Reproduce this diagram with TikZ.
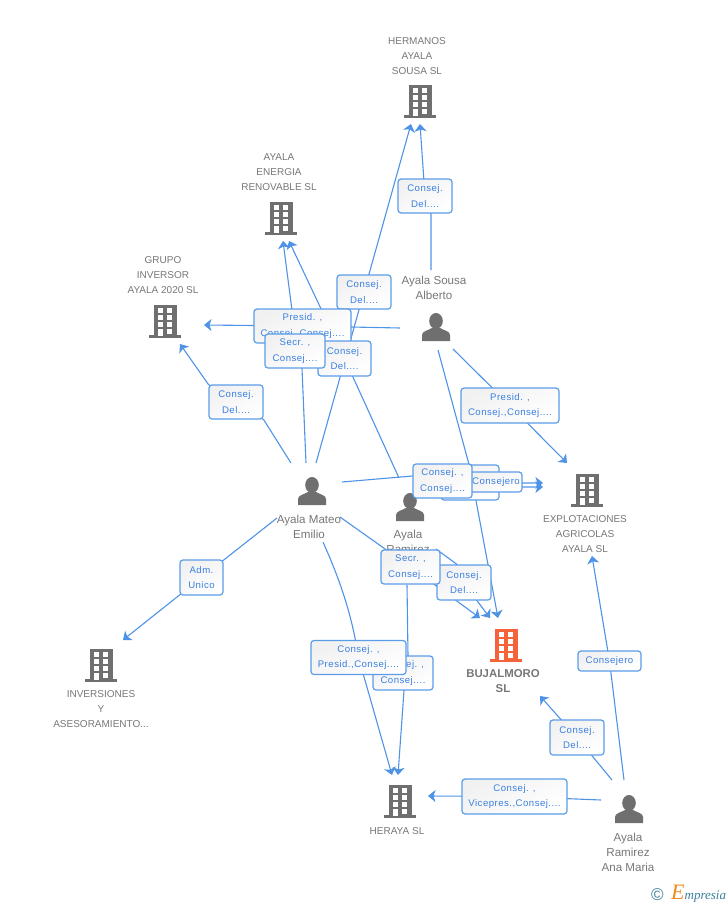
\documentclass[tikz,border=0pt]{standalone}
\usepackage{fontspec}
\setmainfont{Liberation Sans}
\newfontfamily\logofont{Liberation Serif}
\usetikzlibrary{arrows.meta,backgrounds}
\definecolor{linkblue}{HTML}{4F93E6}
\definecolor{boxedge}{HTML}{5B9CE8}
\definecolor{boxtext}{HTML}{3A7FE0}
\definecolor{boxshade}{HTML}{F1F1F1}
\definecolor{icongrey}{HTML}{6F6F6F}
\definecolor{labelgrey}{HTML}{777777}
\definecolor{hotorange}{HTML}{F4633A}
\definecolor{logoteal}{HTML}{3A7F9A}
\definecolor{logoorange}{HTML}{EE8A1E}
\tikzset{
  conn/.style={draw=linkblue,line width=1.1pt},
  arr/.style={conn,-{Stealth[length=7.5pt,width=12pt,inset=2pt]}},
  lbl/.style={draw=boxedge,line width=1.2pt,rounded corners=3pt,inner sep=0pt,
    top color=boxshade,bottom color=white,shading angle=30,text=boxtext,align=center,
    font=\fontsize{9.6}{15.5}\selectfont\addfontfeatures{LetterSpace=5}},
  caption/.style={text=labelgrey,align=center,inner sep=0pt,font=\fontsize{10}{15}\selectfont},
  namecap/.style={caption,font=\fontsize{11.6}{15}\selectfont},
  bldg/.style={minimum width=34pt,minimum height=34pt,inner sep=0pt,path picture={
    \begin{scope}[shift={(path picture bounding box.center)}]
      \fill[#1] (-11.5,-16) rectangle (11.5,15);
      \fill[#1] (-16,14) rectangle (16,16.5);
      \foreach \wy in {-13,-6,1,8}{\fill[white] (1.5,\wy) rectangle (6.5,\wy+4.5);}
      \foreach \wy in {-13,-6,1}{\fill[white] (-7,\wy) rectangle (-2,\wy+4.5);}
      \fill[white] (-7,8) rectangle (-2,15);
    \end{scope}}},
  person/.style={minimum width=30pt,minimum height=30pt,inner sep=0pt,path picture={
    \begin{scope}[shift={(path picture bounding box.center)}]
      \fill[icongrey] (0,-6) ellipse (6.8 and 8);
      \fill[icongrey] (-14,14) -- (-14,8) .. controls (-14,4) and (-8,3.5) .. (-4,1) -- (4,1)
        .. controls (8,3.5) and (14,4) .. (14,8) -- (14,14) -- cycle;
    \end{scope}}},
}
\begin{document}
\begin{tikzpicture}[x=1pt,y=-1pt]
\useasboundingbox (0,0) rectangle (728,905);
% companies
\node[bldg=icongrey] (hermanos) at (420,101) {};
\node[bldg=icongrey] (energia) at (281,218) {};
\node[bldg=icongrey] (grupo) at (165,321) {};
\node[bldg=icongrey] (explot) at (587,490) {};
\node[bldg=hotorange] (bujal) at (506,645) {};
\node[bldg=icongrey] (invers) at (101,665) {};
\node[bldg=icongrey] (heraya) at (400,801) {};
% people
\node[person] (mateo) at (312,491) {};
\node[person] (ramirez) at (410,507) {};
\node[person] (sousa) at (436,327) {};
\node[person] (ana) at (629,809) {};
% captions
\node[caption] (capherm) at (417,56) {HERMANOS\\AYALA\\SOUSA SL};
\node[caption] (capener) at (279,172) {AYALA\\ENERGIA\\RENOVABLE SL};
\node[caption] (capgrup) at (163,275) {GRUPO\\INVERSOR\\AYALA 2020 SL};
\node[caption] (capexpl) at (585,534) {EXPLOTACIONES\\AGRICOLAS\\AYALA SL};
\node[caption] (capinv) at (101,709) {INVERSIONES\\Y\\ASESORAMIENTO...};
\node[caption] (caphera) at (397,831) {HERAYA SL};
\node[caption] (capbuj) at (503,681.5) {\fontsize{11.4}{15}\selectfont\bfseries BUJALMORO\\\fontsize{11.4}{15}\selectfont\bfseries SL};
\node[namecap] (capmat) at (309,526.5) {Ayala Mateo\\Emilio};
\node[namecap] (capram) at (408,541.5) {Ayala\\Ramirez};
\node[namecap] (capsou) at (434,287.5) {Ayala Sousa\\Alberto};
\node[namecap] (capana) at (628,852) {Ayala\\Ramirez\\Ana Maria};
% role boxes, back to front
\node[lbl,minimum width=54pt,minimum height=34pt] (bHerm) at (425,196) {Consej.\\Del....};
\node[lbl,minimum width=54pt,minimum height=34pt] (bMatHerm) at (364,292) {Consej.\\Del....};
\node[lbl,minimum width=97pt,minimum height=34pt] (bPres) at (302.5,326) {Presid. ,\\Consej.,Consej....};
\node[lbl,minimum width=53pt,minimum height=35pt] (bRamEn) at (344.5,358.5) {Consej.\\Del....};
\node[lbl,minimum width=60pt,minimum height=34pt] (bSecr) at (295,351) {Secr. ,\\Consej....};
\node[lbl,minimum width=54pt,minimum height=34pt] (bGrup) at (236,402) {Consej.\\Del....};
\node[lbl,minimum width=98pt,minimum height=35pt] (bSouExp) at (510,405.5) {Presid. ,\\Consej.,Consej....};
\node[lbl,minimum width=58pt,minimum height=35pt] (bBack) at (470,482.5) {\\Consej....};
\node[lbl,minimum width=52pt,minimum height=20pt] (bCons) at (496,482) {Consejero};
\node[lbl,minimum width=59pt,minimum height=34pt] (bMatExp) at (442.5,481) {Consej. ,\\Consej....};
\node[lbl,minimum width=43pt,minimum height=35pt] (bAdm) at (201.5,577.5) {Adm.\\Unico};
\node[lbl,minimum width=54pt,minimum height=35pt] (bRamBuj) at (464,582.5) {Consej.\\Del....};
\node[lbl,minimum width=59pt,minimum height=34pt] (bMatBuj) at (410.5,567) {Secr. ,\\Consej....};
\node[lbl,minimum width=60pt,minimum height=34pt] (bRamHer) at (403,673) {Consej. ,\\Consej....};
\node[lbl,minimum width=95pt,minimum height=34pt] (bMatHer) at (358.5,657.5) {Consej. ,\\Presid.,Consej....};
\node[lbl,minimum width=63pt,minimum height=20pt] (bAnaExp) at (609.5,661) {Consejero};
\node[lbl,minimum width=54pt,minimum height=35pt] (bAnaBuj) at (577,737.5) {Consej.\\Del....};
\node[lbl,minimum width=105pt,minimum height=35pt] (bAnaHer) at (514.5,796.5) {Consej. ,\\Vicepres.,Consej....};
% free ends of connectors
\coordinate (s1) at (431,270); \coordinate (e1) at (420,124);
\coordinate (s2) at (316,463); \coordinate (e2) at (411,124);
\coordinate (s3) at (306,463); \coordinate (e3) at (283,241);
\coordinate (s4) at (399,478); \coordinate (e4) at (289,241);
\coordinate (s5) at (400,328); \coordinate (e5) at (204,325);
\coordinate (s6) at (291,463); \coordinate (e6) at (180,344);
\coordinate (s7) at (453,349); \coordinate (e7) at (567,463);
\coordinate (s8) at (438,350); \coordinate (e8) at (498,618);
\coordinate (s9) at (342,482); \coordinate (e9) at (543,483);
\coordinate (s10) at (413,480); \coordinate (e10) at (543,487);
\coordinate (s11) at (340,517); \coordinate (e11) at (480,618);
\coordinate (s12) at (436,549); \coordinate (e12) at (490,618);
\coordinate (s13) at (323,542); \coordinate (e13) at (392,775);
\coordinate (s14) at (407,585); \coordinate (e14) at (398,775);
\coordinate (s15) at (277,518); \coordinate (e15) at (123,640);
\coordinate (s16) at (601,800); \coordinate (e16) at (428,796);
\coordinate (s17) at (612,780); \coordinate (e17) at (540,696);
\coordinate (s18) at (624,780); \coordinate (e18) at (592,556);
% connectors
\begin{scope}[on background layer]
\path[arr] (s1) -- ([xshift=6pt]bHerm.south) -- (bHerm.center) -- (e1);
\path[arr] (s2) -- (bMatHerm.center) -- (e2);
\path[arr] (s3) -- ([xshift=7pt]bSecr.south) -- (bSecr.north) -- (e3);
\path[arr] (s4) -- (bRamEn.center) -- (e4);
\path[arr] (s5) -- (bPres.center) -- (e5);
\path[arr] (s6) -- (bGrup.south east) -- (bGrup.north west) -- (e6);
\path[arr] (s7) -- (bSouExp.center) -- (e7);
\path[arr] (s8) -- ([xshift=-1pt]bBack.north) -- ([xshift=6pt]bBack.south) -- (e8);
\path[arr] (s9) -- ([yshift=5pt]bMatExp.west) -- ([yshift=-2pt]bMatExp.east) -- (e9);
\path[arr] (s10) -- ([yshift=-5pt]bCons.center) -- (e10);
\path[arr] (s11) -- (bMatBuj.center) -- (e11);
\path[arr] (s12) -- ([xshift=-7pt]bRamBuj.north) -- ([xshift=13pt]bRamBuj.south) -- (e12);
\path[arr] (s13) .. controls (340,580) and (352,615) .. (bMatHer.center) -- (e13);
\path[arr] (s14) -- ([xshift=5pt]bRamHer.north) -- ([xshift=1pt]bRamHer.south) -- (e14);
\path[arr] (s15) -- (bAdm.center) -- (e15);
\path[arr] (s16) -- (bAnaHer.center) -- (e16);
\path[arr] (s17) -- (bAnaBuj.center) -- (e17);
\path[arr] (s18) -- (bAnaExp.center) -- (e18);
\end{scope}
% logo
\node[inner sep=0pt,text=logoteal,font=\fontsize{17}{17}\selectfont] (logoc) at (657.5,894.5) {©};
\node[inner sep=0pt,anchor=base west] (logot) at (671,899) {\logofont\itshape{\color{logoorange}\fontsize{22}{22}\selectfont E}{\color{logoteal}\fontsize{13}{13}\selectfont mpresia}};
\end{tikzpicture}
\end{document}
